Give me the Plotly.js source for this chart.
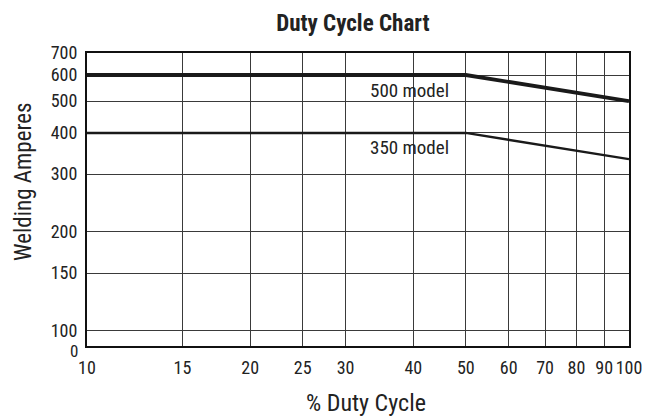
<!DOCTYPE html>
<html>
<head>
<meta charset="utf-8">
<script src="https://cdn.plot.ly/plotly-3.0.1.min.js"></script>
<style>html,body{margin:0;padding:0;background:#fff;}#chart{width:645px;height:416px;}</style>
</head>
<body>
<div id="chart"></div>
<script>
var dutyCycle = [10, 50, 100];
var amps500 = [600, 600, 500];
var amps350 = [400, 400, 333];
var xTickVals = [10, 15, 20, 25, 30, 40, 50, 60, 70, 80, 90, 100];
var xTickText = ['10', '15', '20', '25', '30', '40', '50', '60', '70', '80', '90', '100'];
var yTickVals = [100, 150, 200, 300, 400, 500, 600, 700];
var yTickText = ['100', '150', '200', '300', '400', '500', '600', '700'];
var yBottomValue = 90;
var yBottomLabel = '0';
var seriesNames = ['500 model', '350 model'];
var xTitle = '% Duty Cycle';
var yTitle = 'Welding Amperes';

var FONT = '"Roboto Condensed", "Liberation Sans Narrow", "Arial Narrow", Roboto, sans-serif';

var traces = [
  {x: dutyCycle, y: amps500, mode: 'lines', name: seriesNames[0], line: {color: '#1a1a1a', width: 3.8}, hoverinfo: 'skip'},
  {x: dutyCycle, y: amps350, mode: 'lines', name: seriesNames[1], line: {color: '#1a1a1a', width: 2.4}, hoverinfo: 'skip'}
];

var layout = {
  width: 645, height: 416,
  margin: {l: 87, r: 16, t: 53, b: 70},
  paper_bgcolor: '#fff', plot_bgcolor: '#fff',
  showlegend: false,
  font: {family: FONT, color: '#222', size: 18},
  title: {text: '<b>Duty Cycle Chart</b>', font: {family: FONT, size: 23, color: '#222'}, x: 0.547, xanchor: 'center', y: 0.945, yanchor: 'middle'},
  xaxis: {
    type: 'log', range: [1, 2],
    tickvals: xTickVals, ticktext: xTickText, tickangle: 0,
    showgrid: true, gridcolor: '#3a3a3a', gridwidth: 1,
    showline: true, linecolor: '#111', linewidth: 2, mirror: true,
    ticks: '', ticklabelstandoff: 4,
    tickfont: {family: FONT, size: 18, color: '#222'},
    zeroline: false
  },
  yaxis: {
    type: 'log', range: [Math.log10(yBottomValue), Math.log10(700)],
    tickvals: yTickVals, ticktext: yTickText,
    showgrid: true, gridcolor: '#3a3a3a', gridwidth: 1,
    showline: true, linecolor: '#111', linewidth: 2, mirror: true,
    ticks: '', ticklabelstandoff: 4,
    tickfont: {family: FONT, size: 18, color: '#222'},
    zeroline: false
  },
  annotations: [
    {x: Math.log10(39.4), y: Math.log10(540), xref: 'x', yref: 'y', text: seriesNames[0], showarrow: false, font: {family: FONT, size: 19, color: '#222'}},
    {x: Math.log10(39.4), y: Math.log10(362), xref: 'x', yref: 'y', text: seriesNames[1], showarrow: false, font: {family: FONT, size: 19, color: '#222'}},
    {x: 0, y: Math.log10(yBottomValue), xref: 'paper', yref: 'y', text: yBottomLabel, showarrow: false, xanchor: 'right', yanchor: 'top', xshift: -7, yshift: 7, font: {family: FONT, size: 17, color: '#222'}},
    {x: 0.515, y: 0, xref: 'paper', yref: 'paper', text: xTitle, showarrow: false, xanchor: 'center', yanchor: 'middle', yshift: -57, font: {family: FONT, size: 24, color: '#222'}},
    {x: 0, y: 0.56, xref: 'paper', yref: 'paper', text: yTitle, showarrow: false, textangle: -90, xanchor: 'center', yanchor: 'middle', xshift: -63, font: {family: FONT, size: 23, color: '#222'}}
  ]
};

Plotly.newPlot('chart', traces, layout, {displayModeBar: false, staticPlot: true});
</script>
</body>
</html>
